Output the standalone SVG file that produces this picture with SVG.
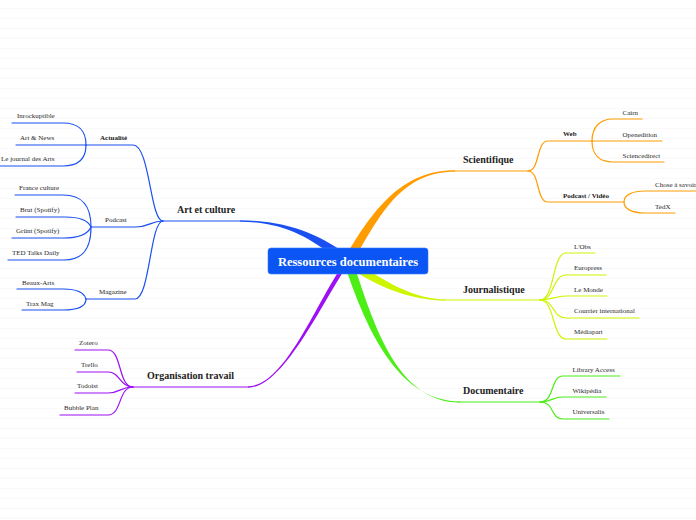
<svg xmlns="http://www.w3.org/2000/svg" width="696" height="520" viewBox="0 0 696 520">
<defs>
<pattern id="bg" x="0" y="0" width="696" height="10" patternUnits="userSpaceOnUse">
<rect x="0" y="7.8" width="696" height="1" fill="#f8f8f8"/>
</pattern>
<style>
.leaf{font-family:"Liberation Serif","Times New Roman",serif;font-size:7px;fill:#2a2a2a}
.sub{font-family:"Liberation Serif","Times New Roman",serif;font-size:7px;fill:#222}
.subb{font-family:"Liberation Serif","Times New Roman",serif;font-size:7px;font-weight:bold;fill:#222}
.main{font-family:"Liberation Serif","Times New Roman",serif;font-size:10px;font-weight:bold;fill:#222}
.ln{fill:none;stroke-width:1.2;stroke-linecap:round}
.bl{stroke:#1a50f2}
.or{stroke:#ff9c00}
.ye{stroke:#cdf500}
.gr{stroke:#4ded16}
.pu{stroke:#9d10f5}
</style>
</defs>
<rect width="696" height="520" fill="#ffffff"/>
<rect width="696" height="520" fill="url(#bg)"/>

<g id="connectors">
<path fill="#1a50f2" d="M240,220.3 C290,220.3 323,236.4 351,257.4 L345,264.6 C317,243.6 290,221.7 240,221.7 Z"/>
<path class="ln bl" d="M163,221 L240,221"/>
<path fill="#ff9c00" d="M455,170.3 C400,170.3 371.2,212.7 344.2,258.7 L351.8,263.3 C378.8,217.3 400,171.7 455,171.7 Z"/>
<path class="ln or" d="M455,171 L528,171"/>
<path fill="#cdf500" d="M445,299.3 C415,299.3 382.7,281.4 350.7,257.4 L345.3,264.6 C377.3,288.6 415,300.7 445,300.7 Z"/>
<path class="ln ye" d="M445,300 L540,300"/>
<path fill="#4ded16" d="M460,401.3 C395,401.3 363.8,321.4 343.8,262.4 L352.2,259.6 C372.2,318.6 395,402.7 460,402.7 Z"/>
<path class="ln gr" d="M460,402 L540,402"/>
<path fill="#9d10f5" d="M248,386.3 C285,386.3 316.3,302 344.3,263 L351.7,259 C323.7,298 285,387.7 248,387.7 Z"/>
<path class="ln pu" d="M133,387 L248,387"/>

<path class="ln bl" d="M163,221 C150,221 150,145 133,145 L86,145"/>
<path class="ln bl" d="M163,221 C150,221 150,227 135,227 L91,227"/>
<path class="ln bl" d="M163,221 C150,221 150,299 135,299 L86,299"/>
<path class="ln bl" d="M86,145 C86,131 80,123 63,123 L12,123"/>
<path class="ln bl" d="M86,145 L16,145"/>
<path class="ln bl" d="M86,145 C86,158 80,166 63,166 L0,166"/>
<path class="ln bl" d="M91,227 C91,205 82,195 63,195 L15,195"/>
<path class="ln bl" d="M91,227 C88,220 78,217 65,217 L16,217"/>
<path class="ln bl" d="M91,227 C88,234 78,238 63,238 L12,238"/>
<path class="ln bl" d="M91,227 C91,250 82,260 64,260 L8,260"/>
<path class="ln bl" d="M86,299 C84,292 75,289 63,289 L17,289"/>
<path class="ln bl" d="M86,299 C86,306 78,310 63,310 L22,310"/>

<path class="ln pu" d="M133,387 C118,387 122,350 108,350 L75,350"/>
<path class="ln pu" d="M133,387 C120,387 120,372 108,372 L77,372"/>
<path class="ln pu" d="M133,387 C120,387 120,393 108,393 L75,393"/>
<path class="ln pu" d="M133,387 C118,387 122,415 108,415 L60,415"/>

<path class="ln or" d="M528,171 C540,171 536,141 548,141 L592,141"/>
<path class="ln or" d="M528,171 C540,171 536,202 548,202 L624,202"/>
<path class="ln or" d="M592,141 C592,127 600,119 613,119 L642,119"/>
<path class="ln or" d="M592,141 L662,141"/>
<path class="ln or" d="M592,141 C592,155 600,162 613,162 L664,162"/>
<path class="ln or" d="M624,202 C624,195 632,191 645,191 L696,191"/>
<path class="ln or" d="M624,202 C624,209 632,213 645,213 L675,213"/>

<path class="ln ye" d="M540,300 C555,300 552,253 566,253 L595,253"/>
<path class="ln ye" d="M540,300 C555,300 552,275 566,275 L606,275"/>
<path class="ln ye" d="M540,300 C552,300 555,296 566,296 L607,296"/>
<path class="ln ye" d="M540,300 C555,300 552,318 566,318 L639,318"/>
<path class="ln ye" d="M540,300 C555,300 552,339 566,339 L607,339"/>

<path class="ln gr" d="M540,402 C555,402 550,376 563,376 L620,376"/>
<path class="ln gr" d="M540,402 C552,402 552,397 563,397 L606,397"/>
<path class="ln gr" d="M540,402 C555,402 550,419 563,419 L609,419"/>
</g>

<g id="root">
<rect x="268" y="248" width="160" height="26" rx="3" fill="#0b55f5" stroke="#3a78ff" stroke-width="0.6"/>
<text x="348" y="265.5" text-anchor="middle" font-family="'Liberation Serif','Times New Roman',serif" font-size="12.5" font-weight="bold" fill="#ffffff">Ressources documentaires</text>
</g>

<g id="art-et-culture"><text class="main" x="177" y="213">Art et culture</text></g>
<g id="actualite"><text class="subb" x="100" y="140">Actualité</text></g>
<g id="inrockuptible"><text class="leaf" x="17" y="118">Inrockuptible</text></g>
<g id="art-news"><text class="leaf" x="20" y="140">Art &amp; News</text></g>
<g id="journal-arts"><text class="leaf" x="1" y="161">Le journal des Arts</text></g>
<g id="podcast"><text class="sub" x="105" y="222">Podcast</text></g>
<g id="france-culture"><text class="leaf" x="19" y="190">France culture</text></g>
<g id="brut"><text class="leaf" x="20" y="212">Brut (Spotify)</text></g>
<g id="grunt"><text class="leaf" x="16" y="233">Grünt (Spotify)</text></g>
<g id="ted"><text class="leaf" x="12" y="255">TED Talks Daily</text></g>
<g id="magazine"><text class="sub" x="99" y="294">Magazine</text></g>
<g id="beaux-arts"><text class="leaf" x="22" y="284.5">Beaux-Arts</text></g>
<g id="trax"><text class="leaf" x="26" y="305.5">Trax Mag</text></g>

<g id="organisation"><text class="main" x="147" y="378.5">Organisation travail</text></g>
<g id="zotero"><text class="leaf" x="79" y="345">Zotero</text></g>
<g id="trello"><text class="leaf" x="81" y="367">Trello</text></g>
<g id="todoist"><text class="leaf" x="77" y="388">Todoist</text></g>
<g id="bubble"><text class="leaf" x="64" y="410">Bubble Plan</text></g>

<g id="scientifique"><text class="main" x="463" y="163">Scientifique</text></g>
<g id="web"><text class="subb" x="563" y="136">Web</text></g>
<g id="cairn"><text class="leaf" x="622.5" y="114.5">Cairn</text></g>
<g id="openedition"><text class="leaf" x="622.5" y="136.5">Openedition</text></g>
<g id="sciencedirect"><text class="leaf" x="622.5" y="157.5">Sciencedirect</text></g>
<g id="podcast-video"><text class="subb" x="563" y="197.5">Podcast / Vidéo</text></g>
<g id="chose"><text class="leaf" x="655" y="186.5">Chose à savoir</text></g>
<g id="tedx"><text class="leaf" x="655" y="208.5">TedX</text></g>

<g id="journalistique"><text class="main" x="463" y="293">Journalistique</text></g>
<g id="obs"><text class="leaf" x="574" y="248.5">L'Obs</text></g>
<g id="europress"><text class="leaf" x="574" y="270">Europress</text></g>
<g id="lemonde"><text class="leaf" x="574" y="291.5">Le Monde</text></g>
<g id="courrier"><text class="leaf" x="574" y="313">Courrier international</text></g>
<g id="mediapart"><text class="leaf" x="574" y="334">Médiapart</text></g>

<g id="documentaire"><text class="main" x="463" y="394">Documentaire</text></g>
<g id="library"><text class="leaf" x="572.5" y="371.5">Library Access</text></g>
<g id="wikipedia"><text class="leaf" x="572.5" y="392.5">Wikipédia</text></g>
<g id="universalis"><text class="leaf" x="572.5" y="414">Universalis</text></g>
</svg>
